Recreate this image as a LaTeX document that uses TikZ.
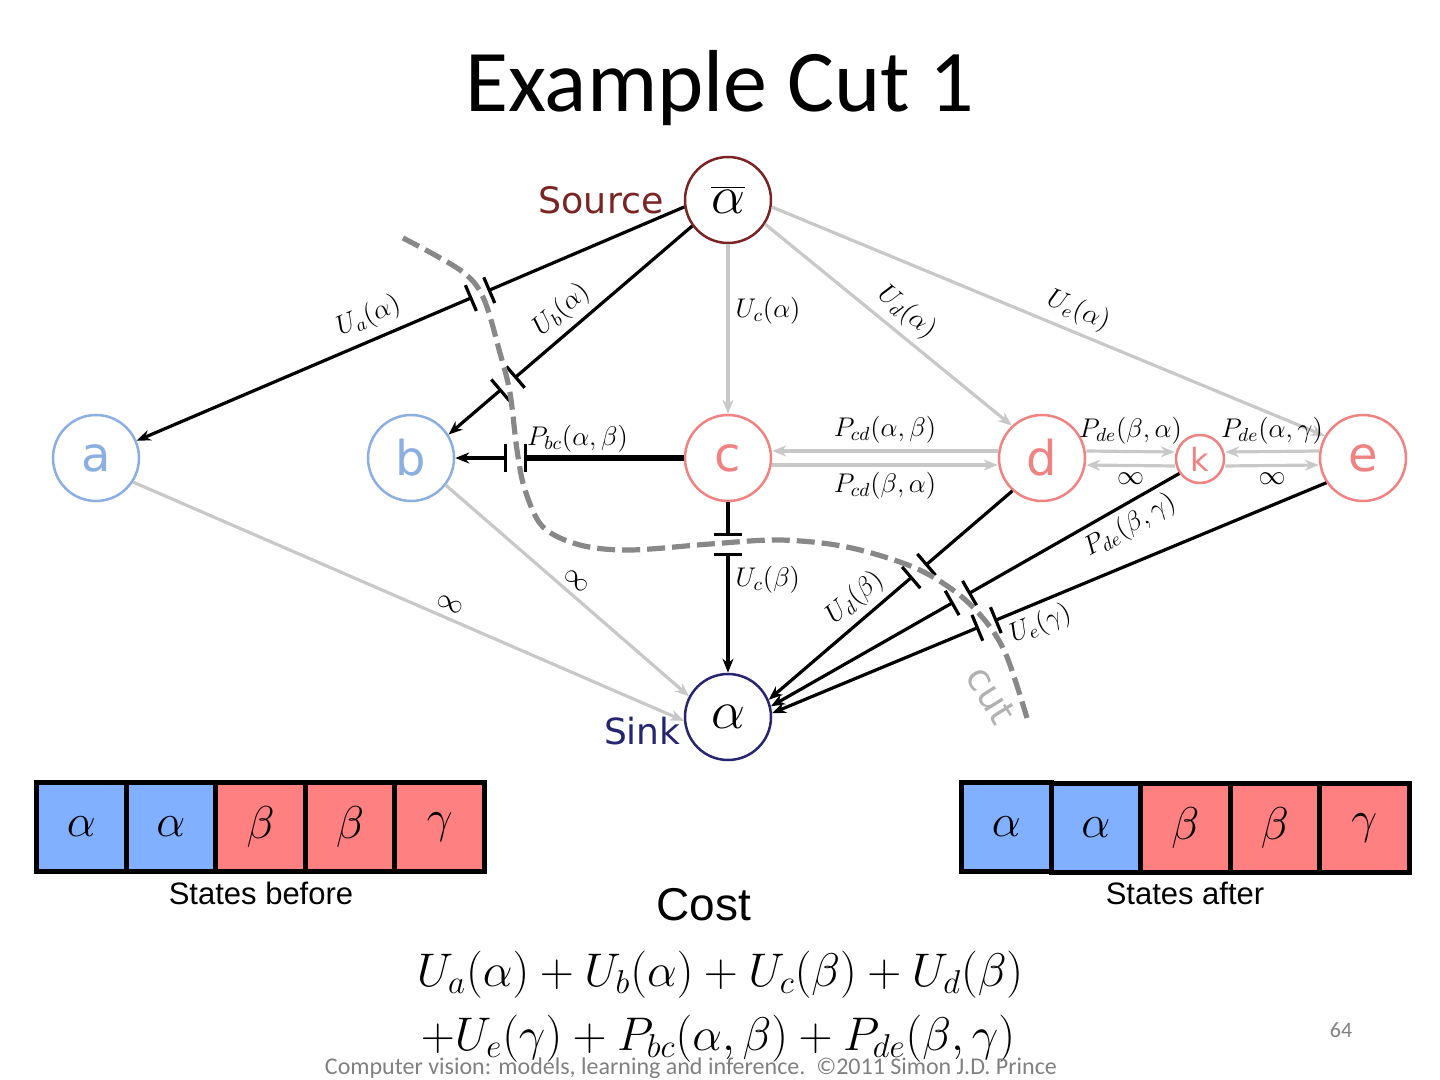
\RequirePackage{fix-cm}
\documentclass[tikz,border=0pt]{standalone}
\usepackage[no-math]{fontspec}
\setmainfont{Carlito}
\newfontfamily\dvs{DejaVu Sans}
\newfontfamily\arl{Liberation Sans}
\usetikzlibrary{arrows.meta,decorations.markings,calc}
\definecolor{nblue}{RGB}{140,175,225}
\definecolor{nred}{RGB}{240,130,130}
\definecolor{srcred}{RGB}{122,36,36}
\definecolor{sinkblue}{RGB}{38,38,112}
\definecolor{edgegray}{RGB}{200,200,200}
\definecolor{cutgray}{RGB}{136,136,136}
\definecolor{cuttext}{RGB}{178,178,178}
\definecolor{boxblue}{RGB}{128,176,255}
\definecolor{boxred}{RGB}{255,128,128}
\definecolor{foot}{RGB}{128,128,128}
\begin{document}
\begin{tikzpicture}[x=0.5pt,y=-0.5pt,
  bignode/.style={circle, line width=1.25pt, minimum size=43pt, inner sep=0pt, fill=white},
  bluen/.style={bignode, draw=nblue, text=nblue, font=\dvs\fontsize{24}{24}\selectfont},
  redn/.style={bignode, draw=nred, text=nred, font=\dvs\fontsize{24}{24}\selectfont},
  smalln/.style={circle, line width=1.25pt, minimum size=24pt, inner sep=0pt, draw=nred, text=nred, font=\dvs\fontsize{16}{16}\selectfont, fill=white},
  blk/.style={draw=black, line width=1.6pt, -{Stealth[length=7pt,width=5.5pt]}},
  gry/.style={draw=edgegray, line width=1.6pt, -{Stealth[length=7pt,width=5.5pt]}},
  lbl/.style={font=\fontsize{13.5}{13.5}\selectfont, inner sep=3pt, text=black},
  cutmark/.style={postaction={decorate}, decoration={markings, mark=at position #1 with {\fill[white] (-5pt,-2pt) rectangle (5pt,2pt); \draw[-, black, line width=1.6pt] (-5pt,-7pt) -- (-5pt,7pt) (5pt,-7pt) -- (5pt,7pt);}}},
  cutline/.style={draw=cutgray, line width=2.6pt, dash pattern=on 9pt off 3.5pt},
  cell/.style={draw=black, line width=2.5pt, minimum width=44.75pt, minimum height=44.5pt, inner sep=0pt, font=\fontsize{23}{23}\selectfont},
]
\useasboundingbox (0,0) rectangle (1440,1080);

% title
\node[font=\fontsize{44}{44}\selectfont, anchor=base] (title) at (720,112) {Example Cut 1};

% nodes
\node[bignode, draw=srcred] (src) at (728,200) {\fontsize{27}{27}\selectfont$\overline{\alpha}$};
\node[bignode, draw=sinkblue] (snk) at (728,717) {\fontsize{27}{27}\selectfont$\alpha$};
\node[bluen] (a) at (96,458) {a};
\node[bluen] (b) at (411,458) {b};
\node[redn] (c) at (728,458) {c};
\node[redn] (d) at (1042,458) {d};
\node[smalln] (k) at (1200,459) {k};
\node[redn] (e) at (1363,458) {e};
\node[anchor=base east, text=srcred, font=\dvs\fontsize{18.2}{18}\selectfont, inner sep=0pt] (srclbl) at (664,214) {Source};
\node[anchor=base east, text=sinkblue, font=\dvs\fontsize{18}{18}\selectfont, inner sep=0pt] (snklbl) at (681,744) {Sink};

% source edges
\draw[blk, cutmark=0.373] (src.189) -- node[lbl, sloped, above=1pt, pos=0.56] (la) {$U_a(\alpha)$} (a.23);
\draw[blk, cutmark=0.756] (src.216) -- node[lbl, sloped, above, pos=0.48] (lb) {$U_b(\alpha)$} (b.32);
\draw[gry] (src.south) -- node[lbl, right, pos=0.39] (lc) {$U_c(\alpha)$} (c.north);
\draw[gry] (src.-33) -- node[lbl, sloped, above, pos=0.52] (ld) {$U_d(\alpha)$} (d.133);
\draw[gry] (src.-9) -- node[lbl, sloped, above, pos=0.54] (le) {$U_e(\alpha)$} (e.150);

% c -> b
\draw[blk, cutmark=0.735] (c.west) -- node[lbl, above, pos=0.465, inner sep=2pt] (lbc) {$P_{bc}(\alpha,\beta)$} (b.east);
\draw[line width=2.6pt] (c.west) -- ($(c.west)!0.692!(b.east)$);

% horizontal pairs
\draw[gry] ([yshift=3.5pt]d.west) -- node[lbl, above] (lcd1) {$P_{cd}(\alpha,\beta)$} ([yshift=3.5pt]c.east);
\draw[gry] ([yshift=-3.5pt]c.east) -- node[lbl, below] (lcd2) {$P_{cd}(\beta,\alpha)$} ([yshift=-3.5pt]d.west);
\draw[gry] ([yshift=3.5pt]d.east) -- node[lbl, above] (ldk1) {$P_{de}(\beta,\alpha)$} ([yshift=3.5pt]k.west);
\draw[gry] ([yshift=-3.5pt]k.west) -- node[lbl, below] (ldk2) {$\infty$} ([yshift=-3.5pt]d.east);
\draw[gry] ([yshift=3.5pt]e.west) -- node[lbl, above] (lke1) {$P_{de}(\alpha,\gamma)$} ([yshift=3.5pt]k.east);
\draw[gry] ([yshift=-3.5pt]k.east) -- node[lbl, below] (lke2) {$\infty$} ([yshift=-3.5pt]e.west);

% sink edges
\draw[blk, cutmark=0.246] (c.south) -- node[lbl, right, pos=0.455] (lcs) {$U_c(\beta)$} (snk.north);
\draw[blk, cutmark=0.384] (d.228) -- node[lbl, sloped, above, pos=0.59] (lds) {$U_d(\beta)$} (snk.23);
\draw[blk, cutmark=0.535] (k.215) -- node[lbl, sloped, below, pos=0.147] (lks) {$P_{de}(\beta,\gamma)$} (snk.14);
\draw[blk, cutmark=0.613] (e.214) -- node[lbl, sloped, below, pos=0.53] (les) {$U_e(\gamma)$} (snk.5);
\draw[gry] (a.-33) -- node[lbl, sloped, above, pos=0.566] (las) {$\infty$} (snk.185);
\draw[gry] (b.-38) -- node[lbl, sloped, above, pos=0.50] (lbs) {$\infty$} (snk.152);

% the cut
\draw[cutline] plot[smooth, tension=0.55] coordinates {(403,238) (460,270) (483,297) (500,353) (510,393) (517,450) (525,490) (543,527) (580,545) (630,550) (710,544) (780,540) (847,547) (913,567) (957,593) (987,623) (1007,657) (1027,718)};
\node[rotate=-58, text=cuttext, font=\dvs\fontsize{19}{19}\selectfont, inner sep=0pt] (cuttxt) at (991,695) {cut};

% states before
\node[cell, fill=boxblue] (s1) at (81.3,827) {$\alpha$};
\node[cell, fill=boxblue] (s2) at (170.9,827) {$\alpha$};
\node[cell, fill=boxred] (s3) at (260.5,827) {$\beta$};
\node[cell, fill=boxred] (s4) at (350.1,827) {$\beta$};
\node[cell, fill=boxred] (s5) at (439.7,827) {$\gamma$};
\node[font=\arl\fontsize{15.5}{15.5}\selectfont, anchor=base] (sb) at (261,904) {States before};

% states after
\node[cell, fill=boxblue] (t1) at (1006.3,826.5) {$\alpha$};
\node[cell, fill=boxblue] (t2) at (1095.8,828) {$\alpha$};
\node[cell, fill=boxred] (t3) at (1185.3,828) {$\beta$};
\node[cell, fill=boxred] (t4) at (1274.8,828) {$\beta$};
\node[cell, fill=boxred] (t5) at (1364.3,828) {$\gamma$};
\node[font=\arl\fontsize{15.5}{15.5}\selectfont, anchor=base] (sa) at (1185,904) {States after};

% cost
\node[font=\arl\fontsize{23}{23}\selectfont, anchor=base] (cost) at (704,920) {Cost};
\node[font=\fontsize{23.6}{23.6}\selectfont, anchor=base] (f1) at (720,986) {$U_a(\alpha)+U_b(\alpha)+U_c(\beta)+U_d(\beta)$};
\node[font=\fontsize{23.6}{23.6}\selectfont, anchor=base] (f2) at (718,1050) {$+U_e(\gamma)+P_{bc}(\alpha,\beta)+P_{de}(\beta,\gamma)$};

% footer
\node[font=\fontsize{12}{12}\selectfont, text=foot, anchor=base] (foot) at (691,1074) {Computer vision: models, learning and inference.\ \ ©2011 Simon J.D. Prince};
\node[font=\fontsize{11}{11}\selectfont, text=foot, anchor=base] (pg) at (1341,1037) {64};
\end{tikzpicture}
\end{document}
